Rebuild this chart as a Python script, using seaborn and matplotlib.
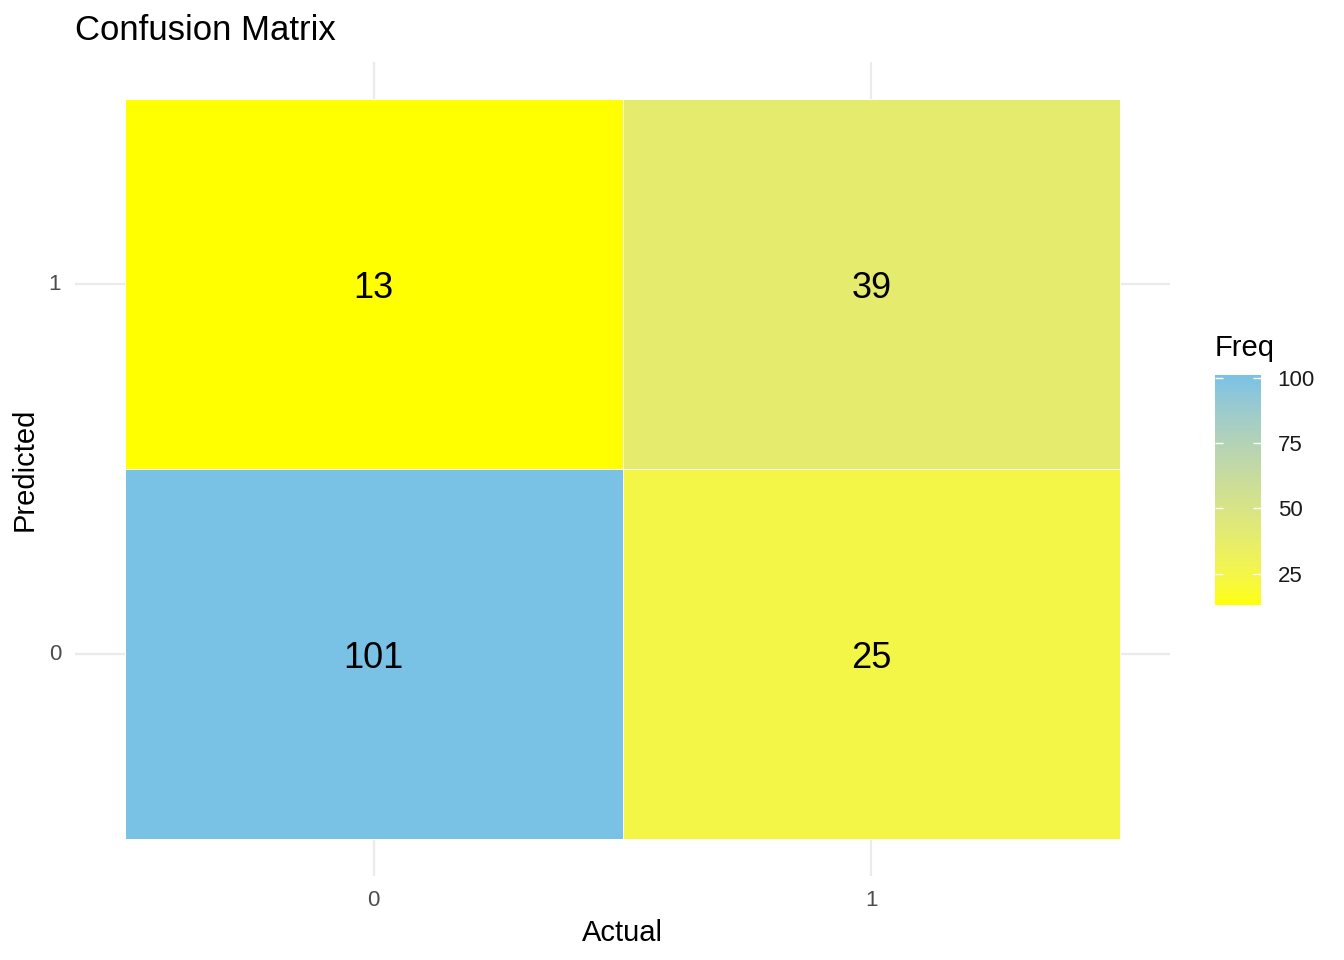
import numpy as np
import pandas as pd
import seaborn as sns
import matplotlib
matplotlib.use("Agg")
import matplotlib.pyplot as plt
from matplotlib.colors import ListedColormap, to_rgb

# confusion matrix counts
actual_labels = ["0", "1"]
predicted_labels = ["1", "0"]          # top row first
freq_top = [13, 39]                    # predicted 1
freq_bottom = [101, 25]                # predicted 0

cm = pd.DataFrame([freq_top, freq_bottom], index=predicted_labels, columns=actual_labels)


# ggplot-like gradient: interpolate in Lab space
def srgb_to_lab(c):
    c = np.asarray(c, float)
    lin = np.where(c <= 0.04045, c / 12.92, ((c + 0.055) / 1.055) ** 2.4)
    M = np.array([[0.4124, 0.3576, 0.1805], [0.2126, 0.7152, 0.0722], [0.0193, 0.1192, 0.9505]])
    xyz = M @ lin / np.array([0.95047, 1.0, 1.08883])
    f = np.where(xyz > 0.008856, np.cbrt(xyz), 7.787 * xyz + 16 / 116)
    return np.array([116 * f[1] - 16, 500 * (f[0] - f[1]), 200 * (f[1] - f[2])])


def lab_to_srgb(lab):
    L, a, b = lab
    fy = (L + 16) / 116
    fx = fy + a / 500
    fz = fy - b / 200
    f = np.array([fx, fy, fz])
    xyz = np.where(f ** 3 > 0.008856, f ** 3, (f - 16 / 116) / 7.787) * np.array([0.95047, 1.0, 1.08883])
    Minv = np.array([[3.2406, -1.5372, -0.4986], [-0.9689, 1.8758, 0.0415], [0.0557, -0.2040, 1.0570]])
    lin = Minv @ xyz
    c = np.where(lin <= 0.0031308, 12.92 * lin, 1.055 * np.clip(lin, 0, None) ** (1 / 2.4) - 0.055)
    return np.clip(c, 0, 1)


low = srgb_to_lab(to_rgb("#FFFF00"))
high = srgb_to_lab(to_rgb("#79C2E5"))
cmap = ListedColormap([lab_to_srgb(low + t * (high - low)) for t in np.linspace(0, 1, 256)])

plt.rcParams["font.family"] = ["Liberation Sans", "DejaVu Sans"]

fig = plt.figure(figsize=(13.44, 9.6), dpi=100)
W, H = 1344, 960
ax = fig.add_axes([75 / W, (H - 876) / H, (1170 - 75) / W, (876 - 62) / H])
cax = fig.add_axes([1215 / W, (H - 605) / H, 46 / W, 230 / H])

sns.heatmap(cm, ax=ax, cbar_ax=cax, cmap=cmap, vmin=cm.values.min(), vmax=cm.values.max(),
            annot=True, fmt="d", annot_kws={"fontsize": 26, "color": "black"},
            linewidths=0.5, linecolor="white")

# nudge labels down a little, like ggplot's vertical centring
for t in ax.texts:
    x, y = t.get_position()
    t.set_position((x, y + 0.011))

ax.set_xlim(-0.1, 2.1)
ax.set_ylim(2.1, -0.1)
ax.set_axisbelow(True)
ax.grid(True, color="#EBEBEB", linewidth=1.6)
for s in ax.spines.values():
    s.set_visible(False)
ax.tick_params(length=0, labelsize=16, labelcolor="#4D4D4D", pad=10)
plt.setp(ax.get_yticklabels(), rotation=0)
ax.set_xlabel("Actual", fontsize=21, labelpad=6)
ax.set_ylabel("Predicted", fontsize=21, labelpad=7)
ax.set_title("Confusion Matrix", loc="left", fontsize=25, pad=16)

cbar = ax.collections[0].colorbar
cbar.outline.set_visible(False)
cbar.set_ticks([25, 50, 75, 100])
cax.tick_params(direction="in", color="white", length=6, width=1, left=True, right=True,
                labelleft=False, labelright=True, labelsize=16, labelcolor="#1A1A1A", pad=12)
fig.text(1215 / W, (H - 356) / H, "Freq", fontsize=21, va="baseline", ha="left")

fig.savefig("out.png", dpi=100)
